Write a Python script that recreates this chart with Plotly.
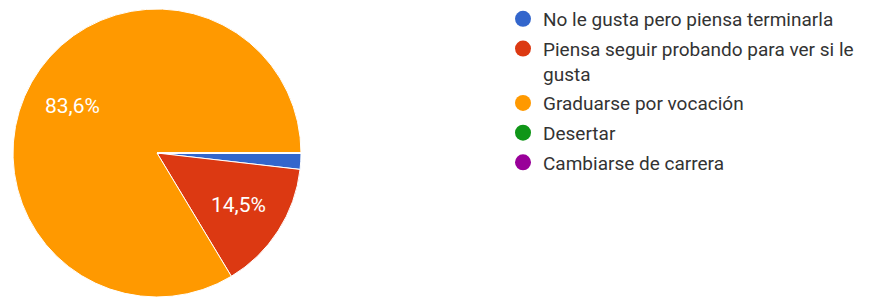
import math
import plotly.graph_objects as go

categories = [
    "No le gusta pero piensa terminarla",
    "Piensa seguir probando para ver si le gusta",
    "Graduarse por vocación",
    "Desertar",
    "Cambiarse de carrera",
]
legend_names = [
    "No le gusta pero piensa terminarla",
    "Piensa seguir probando para ver si le<br>gusta",
    "Graduarse por vocación",
    "Desertar",
    "Cambiarse de carrera",
]
counts = [1, 8, 46, 0, 0]
colors = ["#3366cc", "#dc3912", "#ff9900", "#109618", "#990099"]

W, H = 875, 299
dom_x = [13 / W, 301 / W]
dom_y = [1 - 297 / H, 1 - 9 / H]
start_deg = 90  # clockwise from 12 o'clock

total = sum(counts)

fig = go.Figure()
fig.add_trace(go.Pie(
    labels=categories,
    values=counts,
    marker=dict(colors=colors, line=dict(color="white", width=1)),
    sort=False,
    direction="clockwise",
    rotation=start_deg,
    textinfo="none",
    showlegend=False,
    domain=dict(x=dom_x, y=dom_y),
    hoverinfo="label+percent",
))

# percentage labels placed along each slice's bisector
cx = (dom_x[0] + dom_x[1]) / 2
cy = (dom_y[0] + dom_y[1]) / 2
R = min((dom_x[1] - dom_x[0]) * W, (dom_y[1] - dom_y[0]) * H) / 2
cum = 0
for c in counts:
    frac = c / total
    if frac >= 0.05:
        mid = math.radians(start_deg + (cum + frac / 2) * 360)
        r = 0.67 * R
        fig.add_annotation(
            x=cx + r * math.sin(mid) / W, y=cy + r * math.cos(mid) / H,
            xref="paper", yref="paper", showarrow=False,
            xanchor="center", yanchor="middle",
            text=f"{frac * 100:.1f}".replace(".", ",") + "%",
            font=dict(family="Roboto, Arial, sans-serif", size=21, color="white"),
        )
    cum += frac

for i, (name, col) in enumerate(zip(legend_names, colors)):
    fig.add_trace(go.Scatter(
        x=[None], y=[None], mode="markers",
        marker=dict(color=col, size=20, symbol="circle"),
        name=name, legendgroup=f"g{i}", showlegend=True,
    ))

fig.update_layout(
    width=W, height=H,
    margin=dict(l=0, r=0, t=0, b=0),
    paper_bgcolor="white", plot_bgcolor="white",
    xaxis=dict(visible=False), yaxis=dict(visible=False),
    font=dict(family="Roboto, Arial, sans-serif", color="#333333"),
    legend=dict(
        x=503 / W, y=1, xanchor="left", yanchor="top",
        font=dict(size=19, color="#333333"),
        tracegroupgap=2,
        itemsizing="trace",
        valign="top",
        bgcolor="rgba(0,0,0,0)",
    ),
)

fig.write_html("out.html", config={"displayModeBar": False},
               post_script="document.body.style.margin='0';")
